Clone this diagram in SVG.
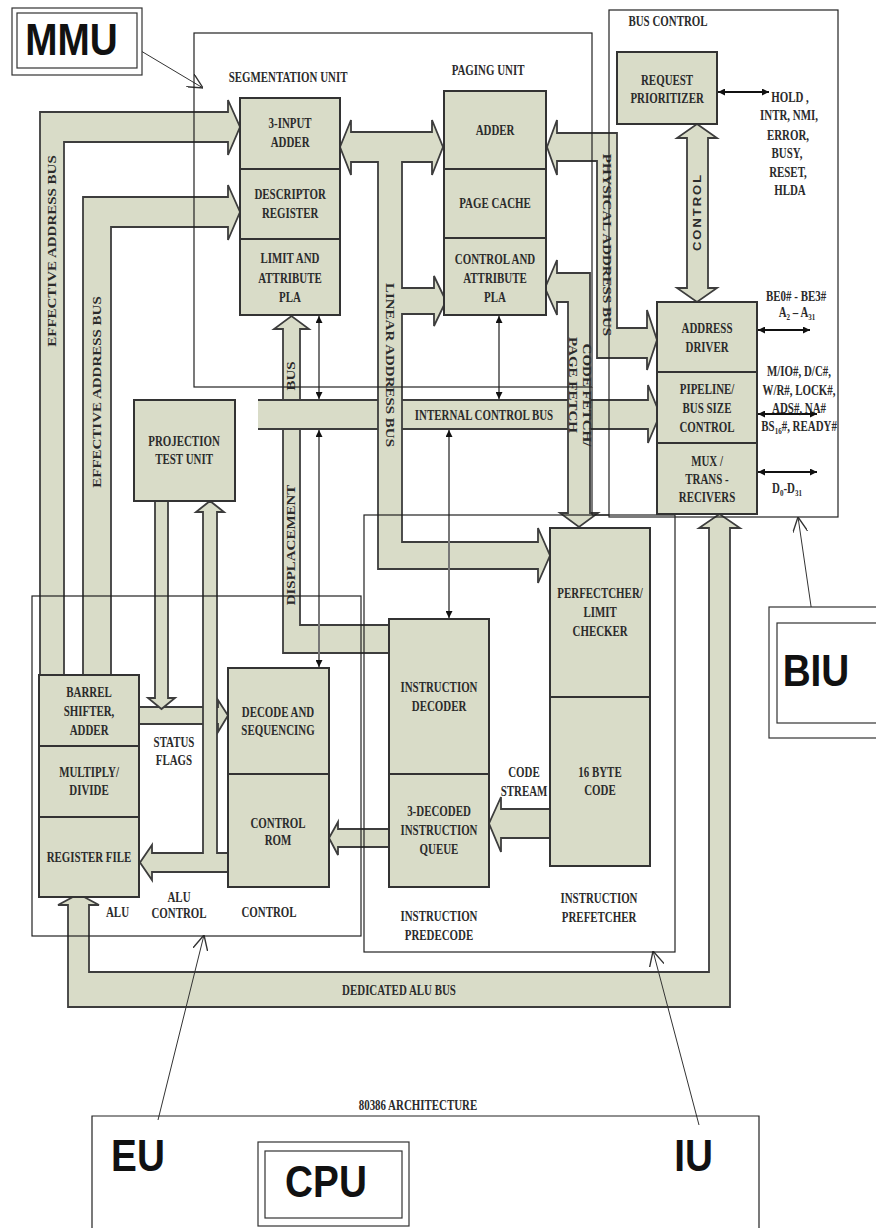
<svg xmlns="http://www.w3.org/2000/svg" width="876" height="1228" viewBox="0 0 876 1228">
<style>
.box{fill:#d9dcc8;stroke:#333;stroke-width:2}
.bus{fill:#d9dcc8;stroke:#3d3d3d;stroke-width:1.8;stroke-linejoin:miter}
.frame{fill:none;stroke:#222;stroke-width:1.2}
.t{font-family:"Liberation Serif",serif;font-weight:bold;font-size:14px;fill:#2b2b2b;text-anchor:middle;transform-box:fill-box;transform-origin:center;transform:scaleX(0.78)}
.r{font-family:"Liberation Serif",serif;font-weight:bold;font-size:15px;fill:#2b2b2b;text-anchor:middle;transform-box:fill-box;transform-origin:center;transform:scaleY(0.78)}
.rs{font-family:"Liberation Sans",sans-serif;font-weight:bold;font-size:13px;letter-spacing:2px;fill:#2b2b2b;text-anchor:middle;transform-box:fill-box;transform-origin:center;transform:scaleY(0.78)}
.big{font-family:"Liberation Sans",sans-serif;font-weight:bold;font-size:44px;fill:#111;text-anchor:middle;transform-box:fill-box;transform-origin:center;transform:scaleX(0.88)}
.thin{stroke:#777;stroke-width:2;fill:none;marker-start:url(#ah);marker-end:url(#ah)}
.sig{stroke:#111;stroke-width:1.8;fill:none;marker-start:url(#ah);marker-end:url(#ah)}
.ptr{stroke:#333;stroke-width:1;fill:none;marker-end:url(#vh)}
</style>
<defs>
<marker id="ah" viewBox="0 0 10 10" refX="10" refY="5" markerWidth="7" markerHeight="7" markerUnits="userSpaceOnUse" orient="auto-start-reverse"><path d="M0,0 L10,5 L0,10 Z" fill="#111"/></marker>
<marker id="vh" viewBox="0 0 12 12" refX="12" refY="6" markerWidth="15" markerHeight="15" markerUnits="userSpaceOnUse" orient="auto"><path d="M0,0 L12,6 L0,12" fill="none" stroke="#333" stroke-width="1.1"/></marker>
</defs>
<rect width="876" height="1228" fill="#fff"/>

<g id="connectors">
  <path class="bus" d="M40,675 L40,112 L228,112 L228,100 L240,127 L228,155 L228,142 L64,142 L64,675"/>
  <path class="bus" d="M83,675 L83,197 L228,197 L228,185 L240,212 L228,240 L228,227 L111,227 L111,675"/>
  <path class="bus" d="M340,147 L351,120 L351,132 L432,132 L432,120 L443,147 L432,175 L432,162 L351,162 L351,175 Z"/>
  <path class="bus" d="M389,625 L300,625 L300,329 L309,329 L291.5,316 L274,329 L283,329 L283,653 L389,653"/>
  <path class="bus" d="M258,400 L648,400 L648,385 L660,414.5 L648,443 L648,429 L258,429"/>
  <path class="bus" d="M378,161 L378,569 L538,569 L538,583 L550,555.5 L538,528 L538,542 L402,542 L402,314 L434,314 L434,326 L446,301 L434,276 L434,288 L402,288 L402,161"/>
  <path class="bus" d="M545,288 L557,260 L557,273 L590,273 L590,513 L598,513 L579,527 L560,513 L568,513 L568,302 L557,302 L557,315 Z"/>
  <path class="bus" d="M547,147 L557,120 L557,133 L617,133 L617,328 L647,328 L647,310 L657,340 L647,370 L647,358 L597,358 L597,161 L557,161 L557,175 Z"/>
  <path class="bus" d="M697,124 L717,138 L708,138 L708,288 L717,288 L697,302 L677,288 L687,288 L687,138 L677,138 Z"/>
  <path class="bus" d="M139,707 L218,707 L218,700 L228,715.5 L218,732 L218,724 L139,724"/>
  <path class="bus" d="M155,501 L155,698 L148,698 L161.5,709 L175,698 L168,698 L168,501"/>
  <path class="bus" d="M228,853 L152,853 L152,845 L140,862.5 L152,880 L152,872 L228,872"/>
  <path class="bus" d="M203,854 L203,512 L196,512 L210,501 L224,512 L217,512 L217,854"/>
  <path class="bus" d="M389,829 L338,829 L338,822 L329,838 L338,855 L338,847 L389,847"/>
  <path class="bus" d="M550,809 L501,809 L501,797 L489,823.5 L501,852 L501,838 L550,838"/>
  <path class="bus" d="M68,905 L68,1007 L730,1007 L730,528 L740,528 L719.5,514 L699,528 L709,528 L709,972 L89,972 L89,905 L99,905 L78.5,894 L58,905 Z"/>

  <line class="thin" x1="319" y1="316" x2="319" y2="399"/>
  <line class="thin" x1="319" y1="430" x2="319" y2="667"/>
  <line class="thin" x1="499" y1="316" x2="499" y2="399"/>
  <line class="thin" x1="449" y1="430" x2="449" y2="618"/>

  <line class="sig" x1="718" y1="92" x2="769" y2="92"/>
  <line class="sig" x1="758" y1="330" x2="810" y2="330"/>
  <line class="sig" x1="758" y1="414" x2="817" y2="414"/>
  <line class="sig" x1="758" y1="472" x2="817" y2="472"/>

  <line class="ptr" x1="126" y1="42" x2="203" y2="88"/>
  <line class="ptr" x1="158" y1="1120" x2="204" y2="935"/>
  <line class="ptr" x1="699" y1="1125" x2="653" y2="951"/>
  <line class="ptr" x1="812" y1="613" x2="798" y2="517"/>

  <g transform="translate(52,251) rotate(-90)"><text class="r" x="0" y="5">EFFECTIVE ADDRESS BUS</text></g>
  <g transform="translate(97,392) rotate(-90)"><text class="r" x="0" y="5">EFFECTIVE ADDRESS BUS</text></g>
  <g transform="translate(390,365) rotate(90)"><text class="r" x="0" y="5">LINEAR ADDRESS BUS</text></g>
  <g transform="translate(607,245) rotate(90)"><text class="r" x="0" y="5">PHYSICAL ADDRESS BUS</text></g>
  <g transform="translate(587,395) rotate(90)"><text class="r" x="0" y="5">CODE FETCH/</text></g>
  <g transform="translate(573,385) rotate(90)"><text class="r" x="0" y="5">PAGE FETCH</text></g>
  <g transform="translate(291.5,545) rotate(-90)"><text class="r" x="0" y="5">DISPLACEMENT</text></g>
  <g transform="translate(291.5,376) rotate(-90)"><text class="r" x="0" y="5">BUS</text></g>
  <g transform="translate(697.5,212) rotate(-90)"><text class="rs" x="0" y="5">CONTROL</text></g>
  <text class="t" x="484" y="420">INTERNAL CONTROL BUS</text>
  <text class="t" x="399" y="995">DEDICATED ALU BUS</text>
  <text class="t" x="174" y="747">STATUS</text>
  <text class="t" x="174" y="765">FLAGS</text>
  <text class="t" x="524" y="777">CODE</text>
  <text class="t" x="524" y="796">STREAM</text>
</g>

<g id="frames">
  <rect class="frame" x="194" y="33" width="398" height="354"/>
  <line class="frame" x1="592" y1="387" x2="592" y2="515"/>
  <rect class="frame" x="609" y="10" width="229" height="507"/>
  <rect class="frame" x="364" y="515" width="311" height="437"/>
  <line class="frame" x1="592" y1="515" x2="609" y2="515"/>
  <rect class="frame" x="32" y="596" width="329" height="340"/>
  <path class="frame" d="M92,1228 L92,1116 L759,1116 L759,1228"/>
  <text class="t" x="288" y="82">SEGMENTATION UNIT</text>
  <text class="t" x="488" y="75">PAGING UNIT</text>
  <text class="t" x="668" y="26">BUS CONTROL</text>
  <text class="t" x="117.5" y="917">ALU</text>
  <text class="t" x="179" y="902">ALU</text>
  <text class="t" x="179" y="918">CONTROL</text>
  <text class="t" x="269" y="917">CONTROL</text>
  <text class="t" x="439" y="921">INSTRUCTION</text>
  <text class="t" x="439" y="940">PREDECODE</text>
  <text class="t" x="599" y="903">INSTRUCTION</text>
  <text class="t" x="599" y="922">PREFETCHER</text>
  <text class="t" x="418" y="1110">80386 ARCHITECTURE</text>
  <text class="t" x="790" y="102">HOLD ,</text>
  <text class="t" x="789" y="120">INTR, NMI,</text>
  <text class="t" x="788" y="140">ERROR,</text>
  <text class="t" x="787" y="158">BUSY,</text>
  <text class="t" x="788" y="177">RESET,</text>
  <text class="t" x="790" y="195">HLDA</text>
  <text class="t" x="796" y="301">BE0# - BE3#</text>
  <text class="t" x="797" y="317">A<tspan font-size="9" dy="3">2</tspan><tspan dy="-3"> – A</tspan><tspan font-size="9" dy="3">31</tspan></text>
  <text class="t" x="799" y="376">M/IO#, D/C#,</text>
  <text class="t" x="799" y="395">W/R#, LOCK#,</text>
  <text class="t" x="799" y="413">ADS#, NA#</text>
  <text class="t" x="799" y="431">BS<tspan font-size="9" dy="3">16</tspan><tspan dy="-3">#, READY#</tspan></text>
  <text class="t" x="787" y="493">D<tspan font-size="9" dy="3">0</tspan><tspan dy="-3">-D</tspan><tspan font-size="9" dy="3">31</tspan></text>
</g>

<g id="mmu-label">
  <rect x="12" y="8" width="130" height="67" fill="#fff" stroke="#333" stroke-width="1.2"/>
  <rect x="17" y="13" width="120" height="55" fill="none" stroke="#333" stroke-width="1.2"/>
  <text class="big" x="71.5" y="55">MMU</text>
</g>
<g id="biu-label">
  <rect x="769" y="607" width="115" height="131" fill="#fff" stroke="#333" stroke-width="1.2"/>
  <rect x="777" y="623" width="105" height="100" fill="none" stroke="#333" stroke-width="1.2"/>
  <text class="big" x="816" y="686">BIU</text>
</g>
<g id="cpu-label">
  <rect x="258" y="1142" width="151" height="84" fill="#fff" stroke="#333" stroke-width="1.2"/>
  <rect x="265" y="1151" width="137" height="67" fill="none" stroke="#333" stroke-width="1.2"/>
  <text class="big" x="326" y="1197">CPU</text>
</g>
<g id="eu-label"><text class="big" x="138" y="1171">EU</text></g>
<g id="iu-label"><text class="big" x="693.5" y="1171">IU</text></g>

<g id="three-input-adder"><rect class="box" x="240" y="98" width="100" height="71"/><text class="t" x="290" y="128">3-INPUT</text><text class="t" x="290" y="147">ADDER</text></g>
<g id="descriptor-register"><rect class="box" x="240" y="169" width="100" height="70"/><text class="t" x="290" y="199">DESCRIPTOR</text><text class="t" x="290" y="218">REGISTER</text></g>
<g id="limit-attribute-pla"><rect class="box" x="240" y="239" width="100" height="76"/><text class="t" x="290" y="263">LIMIT AND</text><text class="t" x="290" y="283">ATTRIBUTE</text><text class="t" x="290" y="302">PLA</text></g>
<g id="paging-adder"><rect class="box" x="444" y="91" width="102" height="78"/><text class="t" x="495" y="135">ADDER</text></g>
<g id="page-cache"><rect class="box" x="444" y="169" width="102" height="69"/><text class="t" x="495" y="208">PAGE CACHE</text></g>
<g id="control-attribute-pla"><rect class="box" x="444" y="238" width="102" height="77"/><text class="t" x="495" y="264">CONTROL AND</text><text class="t" x="495" y="283">ATTRIBUTE</text><text class="t" x="495" y="302">PLA</text></g>
<g id="request-prioritizer"><rect class="box" x="617" y="52" width="100" height="72"/><text class="t" x="667" y="85">REQUEST</text><text class="t" x="667" y="103">PRIORITIZER</text></g>
<g id="address-driver"><rect class="box" x="657" y="302" width="100" height="70"/><text class="t" x="707" y="333">ADDRESS</text><text class="t" x="707" y="352">DRIVER</text></g>
<g id="pipeline-bus-size"><rect class="box" x="657" y="372" width="100" height="71"/><text class="t" x="707" y="394">PIPELINE/</text><text class="t" x="707" y="413">BUS SIZE</text><text class="t" x="707" y="432">CONTROL</text></g>
<g id="mux-transceivers"><rect class="box" x="657" y="443" width="100" height="71"/><text class="t" x="707" y="466">MUX /</text><text class="t" x="707" y="484">TRANS -</text><text class="t" x="707" y="502">RECIVERS</text></g>
<g id="projection-test-unit"><rect class="box" x="134" y="400" width="101" height="101"/><text class="t" x="184" y="446">PROJECTION</text><text class="t" x="184" y="464">TEST UNIT</text></g>
<g id="prefetcher-limit-checker"><rect class="box" x="550" y="528" width="100" height="169"/><text class="t" x="600" y="598">PERFECTCHER/</text><text class="t" x="600" y="617">LIMIT</text><text class="t" x="600" y="636">CHECKER</text></g>
<g id="byte-code"><rect class="box" x="550" y="697" width="100" height="169"/><text class="t" x="600" y="777">16 BYTE</text><text class="t" x="600" y="795">CODE</text></g>
<g id="instruction-decoder"><rect class="box" x="389" y="619" width="100" height="155"/><text class="t" x="439" y="692">INSTRUCTION</text><text class="t" x="439" y="711">DECODER</text></g>
<g id="instruction-queue"><rect class="box" x="389" y="774" width="100" height="113"/><text class="t" x="439" y="816">3-DECODED</text><text class="t" x="439" y="835">INSTRUCTION</text><text class="t" x="439" y="854">QUEUE</text></g>
<g id="barrel-shifter"><rect class="box" x="39" y="675" width="100" height="71"/><text class="t" x="89" y="697">BARREL</text><text class="t" x="89" y="716">SHIFTER,</text><text class="t" x="89" y="735">ADDER</text></g>
<g id="multiply-divide"><rect class="box" x="39" y="746" width="100" height="71"/><text class="t" x="89" y="777">MULTIPLY/</text><text class="t" x="89" y="795">DIVIDE</text></g>
<g id="register-file"><rect class="box" x="39" y="817" width="100" height="80"/><text class="t" x="89" y="862">REGISTER FILE</text></g>
<g id="decode-sequencing"><rect class="box" x="228" y="668" width="101" height="106"/><text class="t" x="278" y="717">DECODE AND</text><text class="t" x="278" y="735">SEQUENCING</text></g>
<g id="control-rom"><rect class="box" x="228" y="774" width="101" height="113"/><text class="t" x="278" y="828">CONTROL</text><text class="t" x="278" y="845">ROM</text></g>
</svg>
